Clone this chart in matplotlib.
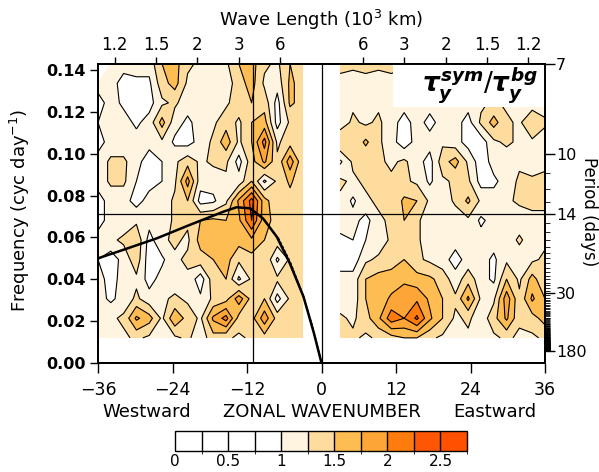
import numpy as np
import matplotlib
matplotlib.use('Agg')
import matplotlib.pyplot as plt
from matplotlib.colors import ListedColormap, BoundaryNorm
from matplotlib.colorbar import ColorbarBase
from matplotlib.patches import Rectangle

# grid of the two spectral panels (zonal wavenumber, frequency in cyc/day)
westK = np.linspace(-36, -3, 17)
eastK = np.linspace(3, 36, 17)
freq = np.linspace(0.012, 0.143, 15)

# normalised spectrum, rows from top (high freq) to bottom
westRows = [
	[np.nan, 1.1, 1.1, 1.2, 1.1, 1.5, 1.6, 1.3, 1.2, 1.1, 1.2, 1.5, 1.6, 1.3, 1.2, 1.5, 1.4],
	[1.1, 1.1, 0.9, 0.9, 0.95, 1.4, 1.6, 1.2, 1.1, 1.2, 1.1, 1.4, 1.6, 1.2, 1.1, 1.55, 1.4],
	[0.9, 1.1, 0.95, 0.9, 0.9, 1.2, 1.3, 1.1, 1.1, 1.0, 1.2, 1.4, 1.5, 1.4, 0.9, 1.55, 1.4],
	[1.0, 1.1, 1.1, 0.95, 1.1, 1.6, 1.1, 0.95, 1.1, 1.2, 1.4, 1.2, 1.5, 1.6, 0.9, 1.3, 1.3],
	[0.9, 1.1, 1.1, 1.1, 1.1, 1.2, 0.95, 0.9, 1.1, 1.3, 1.65, 1.2, 1.5, 2.1, 1.2, 1.4, 1.3],
	[1.1, 1.3, 1.3, 1.1, 0.85, 1.0, 1.2, 1.4, 1.2, 1.3, 1.3, 0.9, 1.4, 1.8, 1.3, 1.9, 1.3],
	[1.1, 1.3, 1.3, 1.0, 0.9, 1.0, 1.2, 1.85, 1.1, 1.1, 1.2, 1.1, 1.5, 0.95, 1.3, 1.55, 1.3],
	[0.9, 1.1, 1.1, 0.9, 1.1, 1.1, 1.3, 1.5, 0.9, 0.95, 1.2, 1.8, 2.35, 1.6, 1.3, 1.4, 1.3],
	[0.9, 1.1, 1.1, 1.2, 1.1, 1.1, 1.3, 1.3, 1.5, 1.55, 1.5, 1.7, 2.25, 1.6, 1.4, 1.3, 1.4],
	[1.1, 1.2, 1.3, 1.45, 0.9, 1.2, 1.3, 1.2, 1.6, 1.6, 1.55, 1.6, 1.7, 1.5, 1.4, 1.3, 1.4],
	[1.0, 0.85, 1.1, 1.4, 0.85, 0.95, 1.2, 1.3, 1.4, 1.5, 1.6, 1.3, 1.4, 1.5, 0.95, 1.3, 1.3],
	[1.1, 0.9, 1.1, 1.2, 0.9, 1.1, 1.1, 1.2, 0.85, 1.4, 1.5, 0.95, 1.3, 1.4, 1.3, 1.4, 1.3],
	[1.1, 0.95, 1.1, 1.3, 1.1, 1.2, 1.3, 1.2, 1.05, 1.3, 1.4, 1.9, 1.4, 1.5, 0.9, 1.3, 1.4],
	[1.1, 1.2, 1.3, 1.8, 1.6, 1.2, 1.7, 1.4, 1.2, 1.8, 2.1, 1.4, 1.4, 1.9, 1.4, 1.3, 1.3],
	[1.1, 1.1, 1.2, 1.3, 1.2, 1.1, 1.2, 1.3, 1.1, 1.4, 1.3, 1.2, 1.3, 1.4, 1.3, 1.3, 1.3],
]

eastRows = [
	[1.3, 1.3, 1.3, 1.3, 1.3, 1.3, 1.1, 1.1, 1.1, 1.1, 1.1, 1.1, 1.1, 1.1, 1.1, 1.1, 1.1],
	[1.2, 1.15, 1.2, 1.15, 1.2, 1.1, 1.1, 1.1, 1.1, 1.1, 1.1, 1.1, 1.1, 1.1, 1.1, 1.1, 1.1],
	[1.1, 1.2, 1.1, 1.2, 1.1, 1.1, 1.1, 1.1, 1.1, 1.1, 1.1, 1.2, 1.3, 1.2, 1.1, 1.1, 1.1],
	[1.1, 1.3, 1.2, 1.3, 1.1, 0.9, 1.1, 0.92, 1.1, 1.1, 0.9, 1.3, 1.6, 1.3, 1.2, 1.5, 1.3],
	[1.5, 1.3, 1.55, 1.3, 1.1, 0.85, 1.1, 1.1, 1.2, 1.1, 0.9, 0.85, 1.2, 1.3, 1.2, 1.2, 1.1],
	[0.95, 1.3, 1.3, 1.3, 1.2, 1.3, 1.1, 0.9, 1.4, 1.6, 1.2, 0.85, 1.1, 1.1, 1.2, 1.1, 1.2],
	[1.3, 1.2, 1.3, 1.45, 1.3, 1.3, 1.2, 0.95, 1.2, 1.3, 1.3, 0.9, 0.95, 1.1, 1.3, 1.3, 1.3],
	[1.2, 0.95, 1.2, 1.3, 1.3, 1.55, 1.5, 1.2, 1.1, 1.3, 1.55, 1.2, 1.1, 1.2, 1.3, 1.3, 1.3],
	[1.1, 1.1, 0.9, 1.2, 1.3, 1.5, 1.3, 1.1, 1.2, 1.1, 1.2, 0.95, 1.1, 1.2, 1.1, 1.2, 1.2],
	[0.95, 1.0, 1.0, 1.1, 1.3, 1.5, 1.3, 1.1, 1.1, 1.1, 1.2, 1.1, 1.1, 1.1, 1.3, 1.1, 1.2],
	[0.85, 0.85, 1.2, 1.3, 1.4, 1.5, 1.3, 1.2, 1.1, 0.9, 1.1, 1.1, 0.95, 1.2, 1.1, 1.2, 1.3],
	[1.1, 1.1, 1.5, 1.6, 1.6, 1.7, 1.6, 1.55, 1.4, 1.1, 1.4, 1.1, 0.95, 1.5, 1.2, 1.6, 1.3],
	[1.1, 1.1, 1.5, 1.6, 1.8, 1.9, 1.95, 1.7, 1.5, 1.3, 1.8, 1.2, 1.2, 1.9, 1.3, 1.8, 1.5],
	[1.3, 1.2, 1.4, 1.7, 2.15, 2.0, 2.3, 1.8, 1.5, 1.2, 1.3, 1.1, 1.4, 1.8, 1.3, 1.4, 1.6],
	[1.3, 1.3, 1.2, 1.3, 1.4, 1.5, 1.5, 1.3, 1.2, 1.1, 1.2, 1.1, 1.2, 1.3, 1.2, 1.2, 1.3],
]

# dispersion curve
curveK = [-36, -32, -26.5, -21.2, -15.8, -13.7, -11.5, -9.4, -7.2, -5.1, -2.9, -1.2, 0]
curveF = [0.050, 0.054, 0.0596, 0.066, 0.0723, 0.0744, 0.0739, 0.069, 0.0603, 0.0476, 0.0317, 0.014, 0]
dashK = [-7.0, -5.0, -3.0, -1.5, 0]
dashF = [0.0600, 0.0480, 0.0325, 0.018, 0]

levels = [0, 0.25, 0.5, 0.75, 1.0, 1.25, 1.5, 1.75, 2.0, 2.25, 2.5, 2.75]
shadeColors = ['white', 'white', 'white', 'white', '#fff4e0', '#fedc9e',
	'#fdbd52', '#fda537', '#fe7b0d', '#fe5605', '#fe5000']
lineLevels = [0.75, 1.0, 1.25, 1.5, 1.75, 2.0, 2.25, 2.5]

waveLen = [1.2, 1.5, 2, 3, 6]
majorPeriods = [7, 10, 14, 30, 180]
refPeriod = 14
refK = -11
circumference = 40.0  # 10^3 km


def drawPanel(ax, k, rows):
	z = np.ma.masked_invalid(np.flipud(np.array(rows)))
	ax.contourf(k, freq, z, levels=levels, colors=shadeColors)
	ax.contour(k, freq, z, levels=lineLevels, colors='k', linewidths=0.8)


def main():
	plt.rcParams['font.family'] = 'DejaVu Sans'
	plt.rcParams['mathtext.fontset'] = 'custom'
	plt.rcParams['mathtext.rm'] = 'DejaVu Sans'
	plt.rcParams['mathtext.it'] = 'DejaVu Sans:italic:bold'
	plt.rcParams['mathtext.bf'] = 'DejaVu Sans:bold'

	fig = plt.figure(figsize=(5.99, 4.72), dpi=100)
	ax = fig.add_axes([98 / 599, 1 - 363 / 472, 447 / 599, 299 / 472])

	drawPanel(ax, westK, westRows)
	drawPanel(ax, eastK, eastRows)

	ax.set_xlim(-36, 36)
	ax.set_ylim(0, 1.0 / 7)

	ax.axhline(1.0 / refPeriod, color='k', lw=0.9, zorder=6)
	ax.axvline(0, color='k', lw=0.9, zorder=6)
	ax.axvline(refK, color='k', lw=0.9, zorder=6)
	ax.plot(curveK, curveF, 'k-', lw=1.8, zorder=7)
	ax.plot(dashK, dashF, 'k--', lw=1.1, dashes=(2, 1), zorder=7)

	# label box in the upper right
	ax.add_patch(Rectangle((0.66, 0.856), 0.34, 0.144, transform=ax.transAxes,
		facecolor='white', edgecolor='none', zorder=8))
	ax.text(0.985, 0.928, r'$\tau_y^{sym}/\tau_y^{bg}$', transform=ax.transAxes,
		ha='right', va='center', fontsize=19, zorder=9)

	ax.set_xticks([-36, -24, -12, 0, 12, 24, 36])
	ax.set_yticks(np.arange(0, 0.141, 0.02))
	ax.set_yticklabels(['%.2f' % v for v in np.arange(0, 0.141, 0.02)], fontweight='bold')
	ax.tick_params(axis='x', direction='out', length=7, width=1, labelsize=12.5, pad=6)
	ax.tick_params(axis='y', direction='out', length=6, width=1, labelsize=11.5, pad=3)

	axTop = ax.twiny()
	axTop.set_xlim(-36, 36)
	topTicks = [-circumference / w for w in waveLen] + [circumference / w for w in waveLen[::-1]]
	topLabels = ['%g' % w for w in waveLen] + ['%g' % w for w in waveLen[::-1]]
	axTop.set_xticks(topTicks)
	axTop.set_xticklabels(topLabels)
	axTop.tick_params(axis='x', direction='out', length=5, width=1, labelsize=12, pad=2)

	axRight = ax.twinx()
	axRight.set_ylim(0, 1.0 / 7)
	axRight.set_yticks([1.0 / p for p in majorPeriods])
	axRight.set_yticklabels([str(p) for p in majorPeriods])
	minorPeriods = [p for p in range(11, 180) if p not in majorPeriods]
	axRight.set_yticks([1.0 / p for p in minorPeriods], minor=True)
	axRight.tick_params(axis='y', which='major', direction='out', length=7, width=1,
		labelsize=11.5, pad=1)
	axRight.tick_params(axis='y', which='minor', direction='out', length=3.5, width=0.6)

	for a in (ax, axTop, axRight):
		for s in a.spines.values():
			s.set_linewidth(1.2)

	fig.text(321 / 599, 1 - 20 / 472, 'Wave Length (10$^3$ km)', ha='center', va='center',
		fontsize=13)
	fig.text(20 / 599, 1 - 210 / 472, 'Frequency (cyc day$^{-1}$)', ha='center', va='center',
		rotation=90, fontsize=13)
	fig.text(589 / 599, 1 - 212 / 472, 'Period (days)', ha='center', va='center',
		rotation=270, fontsize=12)
	fig.text(147 / 599, 1 - 412 / 472, 'Westward', ha='center', va='center', fontsize=13)
	fig.text(322 / 599, 1 - 412 / 472, 'ZONAL WAVENUMBER', ha='center', va='center',
		fontsize=13)
	fig.text(495 / 599, 1 - 412 / 472, 'Eastward', ha='center', va='center', fontsize=13)

	# colour bar
	cax = fig.add_axes([175 / 599, 1 - 451 / 472, 292 / 599, 20 / 472])
	cmap = ListedColormap(shadeColors)
	norm = BoundaryNorm(levels, cmap.N)
	cb = ColorbarBase(cax, cmap=cmap, norm=norm, boundaries=levels, orientation='horizontal',
		drawedges=True, ticks=[0, 0.5, 1, 1.5, 2, 2.5])
	cb.ax.set_xticklabels(['0', '0.5', '1', '1.5', '2', '2.5'])
	cb.outline.set_linewidth(1.0)
	cb.dividers.set_linewidth(1.0)
	cb.ax.tick_params(length=0, labelsize=11, pad=2)

	fig.savefig('out.png', dpi=100)


if __name__ == '__main__':
	main()
